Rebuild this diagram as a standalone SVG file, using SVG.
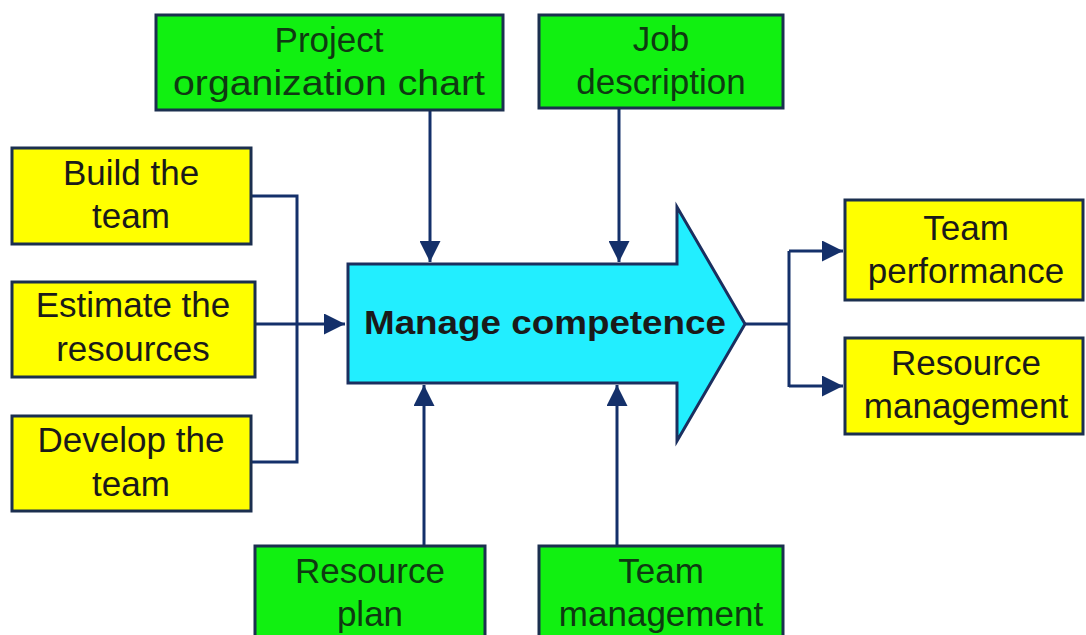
<svg xmlns="http://www.w3.org/2000/svg" width="1086" height="635" viewBox="0 0 1086 635">
<defs>
<style>
.g{fill:#11f011;stroke:#1b2f4f;stroke-width:3}
.y{fill:#ffff00;stroke:#1b2f4f;stroke-width:3}
.t{font-family:"Liberation Sans",Arial,sans-serif;font-size:35px;text-anchor:middle;fill:#1a1a1a}
.tg{fill:#0f3a12}
.c{fill:none;stroke:#14306a;stroke-width:3}
</style>
<marker id="ah" viewBox="0 0 10 10" refX="10" refY="5" markerWidth="7" markerHeight="7" markerUnits="strokeWidth" orient="auto">
<path d="M0,0 L10,5 L0,10 Z" fill="#14306a"/>
</marker>
</defs>
<rect width="1086" height="635" fill="#ffffff"/>
<g id="connectors">
<path class="c" d="M251,196 H297 V462 H251"/>
<path class="c" d="M255,324 H345" marker-end="url(#ah)"/>
<path class="c" d="M430,110 V262" marker-end="url(#ah)"/>
<path class="c" d="M619,108 V262" marker-end="url(#ah)"/>
<path class="c" d="M424,546 V385" marker-end="url(#ah)"/>
<path class="c" d="M617,546 V385" marker-end="url(#ah)"/>
<path class="c" d="M745,324 H789 M789,251 V387"/>
<path class="c" d="M789,251 H843" marker-end="url(#ah)"/>
<path class="c" d="M789,386 H843" marker-end="url(#ah)"/>
</g>
<g id="manage">
<path d="M348,264 H677 V207 L745,324 L677,441 V383 H348 Z" fill="#22eeff" stroke="#1b2f5f" stroke-width="3"/>
<text x="545" y="334" class="t" style="font-weight:bold;font-size:33px" textLength="362" lengthAdjust="spacingAndGlyphs">Manage competence</text>
</g>
<g id="orgchart">
<rect class="g" x="156" y="15" width="347" height="95"/>
<text class="t tg" x="329" y="52">Project</text>
<text class="t tg" x="329" y="95" textLength="312" lengthAdjust="spacingAndGlyphs">organization chart</text>
</g>
<g id="jobdesc">
<rect class="g" x="539" y="15" width="244" height="93"/>
<text class="t tg" x="661" y="51">Job</text>
<text class="t tg" x="661" y="94">description</text>
</g>
<g id="build">
<rect class="y" x="12" y="148" width="239" height="96"/>
<text class="t" x="131" y="185">Build the</text>
<text class="t" x="131" y="228">team</text>
</g>
<g id="estimate">
<rect class="y" x="12" y="282" width="243" height="95"/>
<text class="t" x="133" y="317">Estimate the</text>
<text class="t" x="133" y="361">resources</text>
</g>
<g id="develop">
<rect class="y" x="12" y="416" width="239" height="95"/>
<text class="t" x="131" y="452">Develop the</text>
<text class="t" x="131" y="496">team</text>
</g>
<g id="resplan">
<rect class="g" x="255" y="546" width="230" height="100"/>
<text class="t tg" x="370" y="583">Resource</text>
<text class="t tg" x="370" y="626">plan</text>
</g>
<g id="teammgmt">
<rect class="g" x="539" y="546" width="244" height="100"/>
<text class="t tg" x="661" y="583">Team</text>
<text class="t tg" x="661" y="626">management</text>
</g>
<g id="teamperf">
<rect class="y" x="845" y="200" width="238" height="100"/>
<text class="t" x="966" y="240">Team</text>
<text class="t" x="966" y="283">performance</text>
</g>
<g id="resmgmt">
<rect class="y" x="845" y="338" width="238" height="96"/>
<text class="t" x="966" y="375">Resource</text>
<text class="t" x="966" y="418">management</text>
</g>
</svg>
